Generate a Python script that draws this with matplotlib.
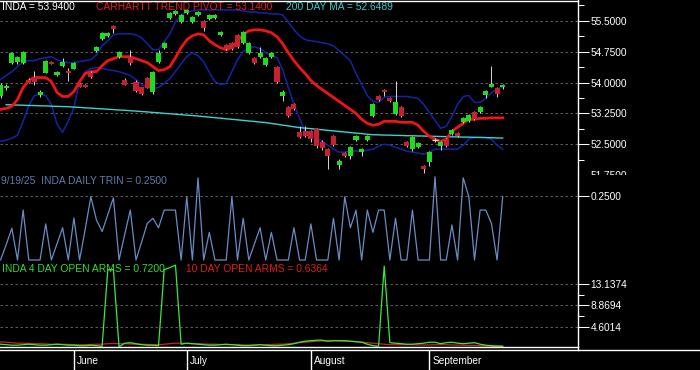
import matplotlib
matplotlib.use('Agg')
import matplotlib.pyplot as plt
from matplotlib.lines import Line2D
from matplotlib.patches import Rectangle

plt.rcParams['font.family'] = ['Liberation Sans', 'DejaVu Sans']

# ---------------- data ----------------
ticker_last = "53.9400"
pivot_last = "53.1400"
ma_last = "52.6489"
trin_last = "0.2500"
arms4_last = "0.7200"
arms10_last = "0.6364"
date_label = "9/19/25"

months = ['June', 'July', 'August', 'September']
month_start_idx = [13, 33, 55, 76]

opens = [53.661, 53.879, 54.484, 54.508, 54.484, 54.072, 54.145, 53.685, 54.242, 54.508,
         54.193, 54.411, 54.290, 54.339, 53.976, 53.951, 54.242, 54.774, 55.064, 55.137,
         55.379, 54.629, 54.072, 54.629, 54.024, 53.879, 54.121, 53.758, 54.508, 54.847,
         55.573, 55.669, 55.476, 55.694, 55.476, 55.645, 55.500, 55.548, 55.573, 55.161,
         54.919, 54.968, 55.161, 54.968, 54.726, 54.605, 54.629, 54.435, 54.629, 54.387,
         53.661, 53.395, 53.468, 52.790, 52.814, 52.814, 52.863, 52.548, 52.379, 52.693,
         51.992, 52.282, 52.209, 52.597, 52.306, 52.597, 53.177, 53.661, 53.830, 53.613,
         53.226, 53.395, 52.548, 52.379, 52.427, 51.967, 52.064, 52.597, 52.451, 52.621,
         52.742, 52.766, 53.032, 53.056, 53.274, 53.274, 53.685, 53.903, 53.855, 53.880]
closes = [53.951, 53.927, 54.726, 54.629, 54.750, 54.000, 54.024, 53.758, 54.532, 54.460,
          54.266, 54.508, 54.242, 54.484, 53.903, 53.903, 54.145, 54.871, 55.210, 55.210,
          55.306, 54.750, 53.951, 54.484, 53.782, 53.710, 53.879, 54.266, 54.726, 54.968,
          55.694, 55.742, 55.645, 55.766, 55.597, 55.718, 55.331, 55.645, 55.645, 55.234,
          54.823, 54.823, 54.871, 55.234, 54.968, 54.484, 54.726, 54.605, 54.726, 54.024,
          53.758, 53.177, 53.347, 52.669, 52.693, 52.621, 52.451, 52.403, 52.209, 52.476,
          52.088, 52.209, 52.427, 52.693, 52.379, 52.693, 53.468, 53.564, 53.758, 53.540,
          53.516, 53.177, 52.451, 52.669, 52.524, 51.895, 52.306, 52.597, 52.548, 52.451,
          52.838, 52.693, 53.129, 53.201, 53.105, 53.395, 53.806, 53.976, 53.710, 53.940]
highs = [53.98, 53.976, 54.75, 54.65, 54.77, 54.10, 54.290, 53.830, 54.556, 54.53,
         54.29, 54.605, 54.363, 54.51, 54.00, 53.97, 54.27, 54.90, 55.23, 55.23,
         55.40, 54.77, 54.10, 54.798, 54.05, 53.90, 54.14, 54.29, 54.798, 54.99,
         55.72, 55.77, 55.67, 55.79, 55.62, 55.74, 55.52, 55.67, 55.67, 55.26,
         54.94, 54.99, 55.18, 55.26, 54.99, 54.63, 54.871, 54.63, 54.75, 54.41,
         53.830, 53.42, 53.50, 52.935, 52.935, 52.84, 52.89, 52.60, 52.40, 52.72,
         52.14, 52.31, 52.45, 52.72, 52.40, 52.72, 53.49, 53.69, 53.85, 53.64,
         54.048, 53.42, 52.57, 52.69, 52.55, 51.99, 52.33, 52.65, 52.57, 52.64,
         52.86, 52.79, 53.15, 53.23, 53.30, 53.42, 53.83, 54.411, 53.88, 53.97]
lows = [53.62, 53.830, 54.46, 54.44, 54.46, 53.98, 53.951, 53.637, 54.22, 54.44,
        54.17, 54.387, 54.048, 54.32, 53.88, 53.88, 54.12, 54.75, 55.04, 55.11,
        55.210, 54.60, 53.93, 54.435, 53.76, 53.69, 53.86, 53.73, 54.484, 54.82,
        55.55, 55.65, 55.45, 55.67, 55.45, 55.62, 55.258, 55.52, 55.55, 55.14,
        54.80, 54.80, 54.85, 54.94, 54.70, 54.46, 54.60, 54.41, 54.60, 54.00,
        53.540, 53.15, 53.32, 52.64, 52.67, 52.55, 52.40, 52.36, 51.895, 52.45,
        51.90, 52.18, 52.15, 52.57, 52.22, 52.57, 53.15, 53.54, 53.661, 53.52,
        53.20, 53.15, 52.43, 52.33, 52.40, 51.80, 51.96, 52.55, 52.36, 52.42,
        52.72, 52.67, 53.01, 53.03, 53.08, 53.25, 53.62, 53.88, 53.64, 53.85]

upper_band = [54.072, 54.169, 54.266, 54.387, 54.508, 54.532, 54.532, 54.581, 54.605, 54.629,
              54.556, 54.508, 54.484, 54.484, 54.508, 54.532, 54.556, 54.677, 54.895, 55.016,
              55.161, 55.185, 55.185, 55.185, 55.161, 55.089, 54.944, 54.798, 54.798, 54.992,
              55.185, 55.476, 55.645, 55.718, 55.742, 55.766, 55.766, 55.766, 55.766, 55.766,
              55.766, 55.766, 55.766, 55.742, 55.718, 55.718, 55.694, 55.694, 55.669, 55.669,
              55.645, 55.476, 55.282, 55.137, 55.040, 55.016, 54.992, 54.968, 54.944, 54.895,
              54.774, 54.653, 54.532, 54.217, 53.951, 53.685, 53.540, 53.516, 53.637, 53.661,
              53.661, 53.661, 53.661, 53.637, 53.613, 53.468, 53.274, 53.080, 52.887, 52.935,
              53.177, 53.468, 53.661, 53.685, 53.516, 53.516, 53.613, 53.758, 53.830, 53.903]
lower_band = [52.572, 52.597, 52.645, 52.718, 53.056, 53.443, 53.685, 53.710, 53.685, 53.468,
              52.984, 52.790, 53.056, 53.395, 54.024, 54.266, 54.339, 54.363, 54.339, 54.314,
              54.290, 54.266, 54.218, 54.169, 54.072, 53.951, 53.879, 53.855, 53.879, 53.976,
              54.097, 54.266, 54.460, 54.629, 54.726, 54.653, 54.508, 54.242, 54.024, 53.951,
              53.976, 54.266, 54.556, 54.750, 54.847, 54.871, 54.823, 54.726, 54.653, 54.605,
              54.314, 53.879, 53.468, 53.129, 52.790, 52.718, 52.645, 52.572, 52.476, 52.379,
              52.306, 52.306, 52.330, 52.330, 52.330, 52.355, 52.379, 52.451, 52.500, 52.476,
              52.427, 52.379, 52.330, 52.306, 52.282, 52.258, 52.306, 52.379, 52.379, 52.379,
              52.379, 52.379, 52.476, 52.621, 52.669, 52.669, 52.669, 52.621, 52.476, 52.379]
trend_pivot = [53.347, 53.371, 53.419, 53.589, 53.879, 54.048, 54.121, 54.121, 54.121, 54.024,
               53.758, 53.661, 53.661, 53.782, 54.024, 54.218, 54.266, 54.266, 54.411, 54.532,
               54.581, 54.629, 54.629, 54.629, 54.581, 54.532, 54.484, 54.387, 54.290, 54.314,
               54.387, 54.605, 54.847, 55.040, 55.137, 55.185, 55.161, 55.016, 54.919, 54.847,
               54.798, 54.847, 55.016, 55.161, 55.258, 55.282, 55.282, 55.258, 55.210, 55.113,
               54.944, 54.726, 54.532, 54.363, 54.218, 54.048, 53.927, 53.830, 53.734, 53.637,
               53.540, 53.443, 53.347, 53.250, 53.105, 53.008, 52.960, 52.984, 53.056, 53.056,
               53.056, 53.032, 53.032, 53.032, 52.960, 52.814, 52.693, 52.621, 52.572, 52.621,
               52.814, 52.911, 53.008, 53.105, 53.105, 53.129, 53.129, 53.140, 53.140, 53.140]
ma200 = [None, 53.460, 53.457, 53.451, 53.448, 53.442, 53.440, 53.433, 53.431, 53.424,
         53.421, 53.415, 53.412, 53.402, 53.395, 53.384, 53.377, 53.367, 53.360, 53.349,
         53.342, 53.331, 53.325, 53.314, 53.306, 53.294, 53.285, 53.272, 53.263, 53.250,
         53.241, 53.228, 53.219, 53.206, 53.197, 53.185, 53.171, 53.159, 53.144, 53.133,
         53.117, 53.106, 53.091, 53.079, 53.064, 53.053, 53.037, 53.025, 53.004, 52.986,
         52.963, 52.945, 52.923, 52.904, 52.890, 52.878, 52.863, 52.851, 52.836, 52.824,
         52.809, 52.797, 52.783, 52.769, 52.758, 52.742, 52.730, 52.727, 52.721, 52.720,
         52.714, 52.712, 52.706, 52.705, 52.700, 52.698, 52.692, 52.691, 52.686, 52.684,
         52.679, 52.677, 52.672, 52.671, 52.665, 52.664, 52.658, 52.657, 52.651, 52.649]

trin = [0.0, 0.06, 0.124, 0.0, 0.195, 0.0, 0.0, 0.0, 0.141, 0.0,
        0.063, 0.126, 0.0, 0.164, 0.0, 0.12, 0.247, 0.156, 0.111, 0.177,
        0.243, 0.0, 0.1, 0.195, 0.0, 0.07, 0.143, 0.163, 0.126, 0.195,
        0.195, 0.195, 0.0, 0.247, 0.0, 0.321, 0.0, 0.108, 0.0, 0.0,
        0.0, 0.247, 0.0, 0.163, 0.0, 0.063, 0.126, 0.0, 0.108, 0.0,
        0.0, 0.0, 0.126, 0.0, 0.0, 0.141, 0.0, 0.0, 0.0, 0.163,
        0.0, 0.247, 0.126, 0.195, 0.0, 0.195, 0.108, 0.195, 0.195, 0.0,
        0.163, 0.0, 0.0, 0.195, 0.0, 0.0, 0.0, 0.325, 0.0, 0.0,
        0.137, 0.0, 0.321, 0.247, 0.0, 0.195, 0.195, 0.143, 0.0, 0.247]

arms4 = [1.1, 1.0, 0.9, 0.9, 1.0, 1.1, 1.0, 0.9, 0.9, 1.0,
         1.1, 1.0, 0.9, 0.9, 0.8, 0.8, 0.9, 0.8, 0.7, 16.0,
         16.0, 0.6, 1.3, 1.4, 1.2, 1.0, 0.9, 0.9, 0.8, 16.0,
         16.4, 16.9, 1.1, 1.3, 1.2, 1.1, 1.0, 0.9, 0.9, 1.0,
         1.1, 1.0, 0.9, 0.8, 0.8, 0.9, 1.0, 0.9, 0.8, 0.8,
         0.9, 1.0, 1.2, 1.5, 1.7, 1.8, 1.9, 1.9, 1.7, 1.8,
         1.8, 1.8, 1.7, 1.6, 1.5, 1.1, 0.8, 0.7, 16.7, 1.4,
         1.3, 1.2, 1.1, 1.1, 1.2, 1.3, 1.5, 1.5, 1.2, 1.4,
         1.5, 1.3, 1.2, 1.3, 1.4, 1.1, 0.9, 0.8, 0.75, 0.72]
arms10 = [1.55, 1.5, 1.4, 1.3, 1.3, 1.25, 1.2, 1.2, 1.15, 1.1,
          1.1, 1.1, 1.05, 1.0, 1.0, 1.0, 1.05, 1.1, 1.1, 1.2,
          1.25, 1.2, 1.2, 1.15, 1.1, 1.1, 1.05, 1.0, 1.0, 1.1,
          1.2, 1.3, 1.3, 1.25, 1.2, 1.2, 1.15, 1.1, 1.1, 1.05,
          1.0, 1.0, 1.0, 0.95, 0.95, 0.95, 1.0, 1.0, 1.05, 1.1,
          1.1, 1.2, 1.3, 1.4, 1.5, 1.6, 1.7, 1.75, 1.8, 1.8,
          1.75, 1.7, 1.65, 1.6, 1.5, 1.4, 1.3, 1.2, 1.1, 1.0,
          1.0, 1.0, 1.0, 1.0, 0.95, 0.95, 0.95, 1.0, 1.0, 1.0,
          0.95, 0.9, 0.9, 0.85, 0.85, 0.8, 0.75, 0.7, 0.66, 0.6364]

price_major = [51.75, 52.5, 53.25, 54.0, 54.75, 55.5]
price_minor = [52.125, 52.875, 53.625, 54.375, 55.125, 55.875]
trin_major = [0.25]
arms_major = [4.6014, 8.8694, 13.1374]
arms_minor = [6.7354, 11.0034]

# ---------------- layout helpers ----------------
W, H = 700.0, 370.0
PX_PER_BAR = 5.642
X0 = -0.1
RIGHT = 577.7


def box(x0, y0, x1, y1):
    return [x0 / W, 1 - y1 / H, (x1 - x0) / W, (y1 - y0) / H]


def ftext(x, y, s, **kw):
    return fig.text(x / W, 1 - y / H, s, va='center', ha='left', **kw)


fig = plt.figure(figsize=(7, 3.7), dpi=100, facecolor='black')

GRID = dict(color='#6e6e6e', linestyle=(0, (3, 3)), linewidth=0.6)
TICKFS = 7.3
xlim = (X0, X0 + RIGHT / PX_PER_BAR)


def style_axis(ax, major, minor, fmt, ylim):
    ax.set_facecolor('black')
    ax.set_xlim(*xlim)
    ax.set_ylim(*ylim)
    for s in ax.spines.values():
        s.set_visible(False)
    ax.set_xticks([])
    ax.yaxis.tick_right()
    ax.set_yticks(major)
    ax.set_yticks(minor, minor=True)
    ax.set_yticklabels([fmt % v for v in major])
    ax.tick_params(axis='y', which='major', length=7.9, width=0.75, color='white',
                   labelcolor='white', labelsize=TICKFS, pad=1.2)
    ax.tick_params(axis='y', which='minor', length=4.0, width=0.75, color='white')
    ax.grid(axis='y', which='major', **GRID)
    ax.set_axisbelow(True)


idx = list(range(len(closes)))

# ---------------- price panel ----------------
ax1 = fig.add_axes(box(0, 0, RIGHT, 175))
style_axis(ax1, price_major, price_minor, '%.4f', (51.774, 56.008))

ax1.plot(idx, upper_band, color='#1424a8', lw=1.1, zorder=2)
ax1.plot(idx, lower_band, color='#1424a8', lw=1.1, zorder=2)
ax1.plot(idx, ma200, color='#3fd0d0', lw=1.0, zorder=2)
ax1.plot(idx, trend_pivot, color='#f01414', lw=2.0, zorder=3)

GREEN = '#1fdc1f'
RED = '#c8202e'
for i in idx:
    o, c, h, l = opens[i], closes[i], highs[i], lows[i]
    ax1.vlines(i, l, h, color='#d8d8d8', lw=0.7, zorder=4)
    if abs(c - o) < 1e-6:
        ax1.hlines(o, i - 0.45, i + 0.45, color='#e8e8e8', lw=0.9, zorder=5)
    else:
        col = GREEN if c > o else RED
        ax1.bar(i, abs(c - o), bottom=min(o, c), width=0.9, color=col,
                edgecolor='none', zorder=5)

# ---------------- TRIN panel ----------------
ax2 = fig.add_axes(box(0, 175, RIGHT, 262))
style_axis(ax2, trin_major, [], '%.4f', (-0.0078, 0.332))
ax2.plot(idx, trin, color='#6a8cc4', lw=0.9)

# ---------------- ARMS panel ----------------
ax3 = fig.add_axes(box(0, 262, RIGHT, 347))
style_axis(ax3, arms_major, arms_minor, '%.4f', (0.54, 17.53))
ax3.plot(idx, arms10, color='#d42020', lw=0.9, zorder=3)
ax3.plot(idx, arms4, color='#3aea3a', lw=0.9, zorder=4)

# black band to the right of the TRIN panel, drawn above the price panel,
# hides the lower half of the price panel's last label (as in the original)
cover = fig.add_axes(box(RIGHT + 1, 175.5, W, 186))
cover.set_facecolor('black')
cover.axis('off')
cover.add_patch(Rectangle((0, 0), 1, 1, transform=cover.transAxes,
                          facecolor='black', edgecolor='none'))
cover.set_zorder(5)

# ---------------- date strip ----------------
ax4 = fig.add_axes(box(0, 349.5, W, 370))
ax4.set_facecolor('black')
ax4.set_xlim(X0, X0 + W / PX_PER_BAR)
ax4.set_ylim(0, 1)
ax4.axis('off')
for m, si in zip(months, month_start_idx):
    ax4.vlines(si, 0, 1, color='white', lw=1.0)
    ax4.text(si + 0.55, 0.45, m, color='white', fontsize=TICKFS, va='center', ha='left')

# ---------------- frame lines ----------------
def fline(x0, y0, x1, y1, lw=1.0):
    fig.add_artist(Line2D([x0 / W, x1 / W], [1 - y0 / H, 1 - y1 / H],
                          transform=fig.transFigure, color='white', lw=lw, zorder=10))

fline(RIGHT, 0, RIGHT, 349.5)
fline(0, 0.6, RIGHT, 0.6)
fline(0, 346.8, RIGHT, 346.8)
fline(0, 349.5, W, 349.5)

# ---------------- header texts ----------------
TFS = 7.4
ftext(2, 6.5, f'INDA = {ticker_last}', color='white', fontsize=TFS)
ftext(96, 6.5, f'CARHARTT TREND PIVOT = {pivot_last}', color='#e81c1c', fontsize=TFS)
ftext(286, 6.5, f'200 DAY MA = {ma_last}', color='#3fcaca', fontsize=TFS)
ftext(1, 181.5, f'{date_label}  INDA DAILY TRIN = {trin_last}', color='#5a7eaa', fontsize=TFS)
ftext(2, 268.5, f'INDA 4 DAY OPEN ARMS = {arms4_last}', color='#2ee02e', fontsize=TFS)
ftext(186, 268.5, f'10 DAY OPEN ARMS = {arms10_last}', color='#e01c1c', fontsize=TFS)

fig.savefig('out.png', dpi=100, facecolor='black')
